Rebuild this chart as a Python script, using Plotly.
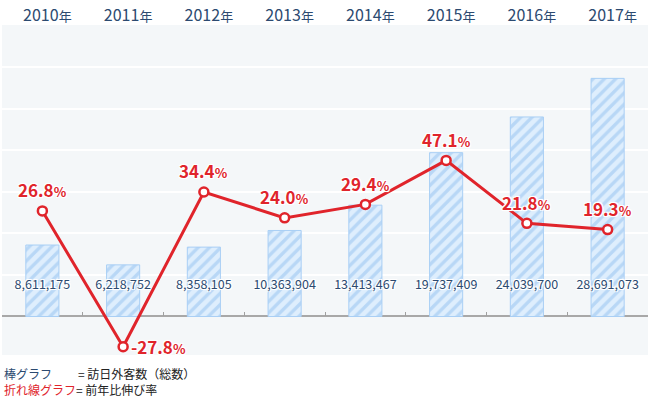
import plotly.graph_objects as go

years = ["2010", "2011", "2012", "2013", "2014", "2015", "2016", "2017"]
visitors = [8611175, 6218752, 8358105, 10363904, 13413467, 19737409, 24039700, 28691073]
growth = [26.8, -27.8, 34.4, 24.0, 29.4, 47.1, 21.8, 19.3]

NAVY = "#2c4a70"
RED = "#e0242b"
FONT = "Noto Sans CJK JP"
HALO = "1px 1px 0 #fff, -1px -1px 0 #fff, 1px -1px 0 #fff, -1px 1px 0 #fff, 0 0 3px #fff"
LABEL_Y = 3.7e6

fig = go.Figure()

fig.add_trace(go.Bar(
    x=years, y=visitors, width=0.41,
    marker=dict(
        color="#deeefd",
        line=dict(color="#a9cff5", width=1),
        pattern=dict(shape="/", bgcolor="#deeefd", fgcolor="#92c0ef", size=8, solidity=0.42),
    ),
    hoverinfo="skip", showlegend=False,
))

fig.add_trace(go.Scatter(
    x=years, y=[LABEL_Y] * len(years), mode="text",
    text=[f"{v:,}" for v in visitors],
    textfont=dict(family=FONT, size=12.5, color=NAVY, shadow=HALO),
    hoverinfo="skip", showlegend=False,
))

fig.add_trace(go.Scatter(
    x=years, y=growth, yaxis="y2", mode="lines+markers",
    line=dict(color=RED, width=3),
    marker=dict(size=9, color="white", line=dict(color=RED, width=2.5)),
    hoverinfo="skip", showlegend=False, cliponaxis=False,
))

fig.add_trace(go.Scatter(x=[0], y=[0], xaxis="x2", mode="markers",
                         marker=dict(opacity=0), hoverinfo="skip", showlegend=False))

for i, g in enumerate(growth):
    txt = f"{g:.1f}<span style='font-size:13px'>%</span>"
    pct_font = dict(family=FONT, size=17, color=RED, weight="bold", shadow=HALO)
    if g < 0:
        fig.add_annotation(x=i, y=g, xref="x", yref="y2", text=txt, showarrow=False,
                           xanchor="left", yanchor="middle", xshift=6, font=pct_font)
    else:
        fig.add_annotation(x=i, y=g, xref="x", yref="y2", text=txt, showarrow=False,
                           xanchor="center", yanchor="middle", yshift=21, font=pct_font)

legend_font = dict(family=FONT, size=12)
fig.add_annotation(xref="paper", yref="paper", x=0, y=-0.055, xanchor="left", yanchor="middle",
                   text="棒グラフ", showarrow=False, font=dict(**legend_font, color=NAVY))
fig.add_annotation(xref="paper", yref="paper", x=0, y=-0.105, xanchor="left", yanchor="middle",
                   text="折れ線グラフ", showarrow=False, font=dict(**legend_font, color=RED))
fig.add_annotation(xref="paper", yref="paper", x=0.1145, y=-0.055, xanchor="left", yanchor="middle",
                   text="= 訪日外客数（総数）", showarrow=False, font=dict(**legend_font, color="#222"))
fig.add_annotation(xref="paper", yref="paper", x=0.111, y=-0.105, xanchor="left", yanchor="middle",
                   text="= 前年比伸び率", showarrow=False, font=dict(**legend_font, color="#222"))

fig.update_layout(
    width=650, height=400,
    margin=dict(l=2, r=2, t=21, b=45),
    paper_bgcolor="white", plot_bgcolor="#f4f7f9",
    font=dict(family=FONT),
    xaxis=dict(
        type="category", side="top", range=[-0.5, 7.5],
        tickvals=years,
        ticktext=[f"{y}<span style='font-size:13px'>年</span>" for y in years],
        tickfont=dict(family=FONT, size=16, color=NAVY),
        ticks="", showgrid=False, showline=False, zeroline=False,
        ticklabelshift=5, fixedrange=True,
    ),
    xaxis2=dict(
        overlaying="x", anchor="free", position=0.1168, side="top",
        range=[-0.5, 7.5], tickvals=[i + 0.5 for i in range(len(years) - 1)],
        ticks="outside", ticklen=4, tickwidth=1, tickcolor="#a0a0a0",
        showticklabels=False, showgrid=False, showline=False, zeroline=False,
    ),
    yaxis=dict(
        range=[-4.64e6, 35.12e6], dtick=5e6, showticklabels=False,
        showgrid=True, gridcolor="white", gridwidth=2,
        zeroline=True, zerolinecolor="#a8a8a8", zerolinewidth=1.5,
        ticks="", fixedrange=True,
    ),
    yaxis2=dict(
        overlaying="y", range=[-31.1, 101.5], showticklabels=False,
        showgrid=False, zeroline=False, ticks="",
    ),
)

fig.write_html("out.html", config={"displayModeBar": False},
               post_script="document.body.style.margin='0';")
